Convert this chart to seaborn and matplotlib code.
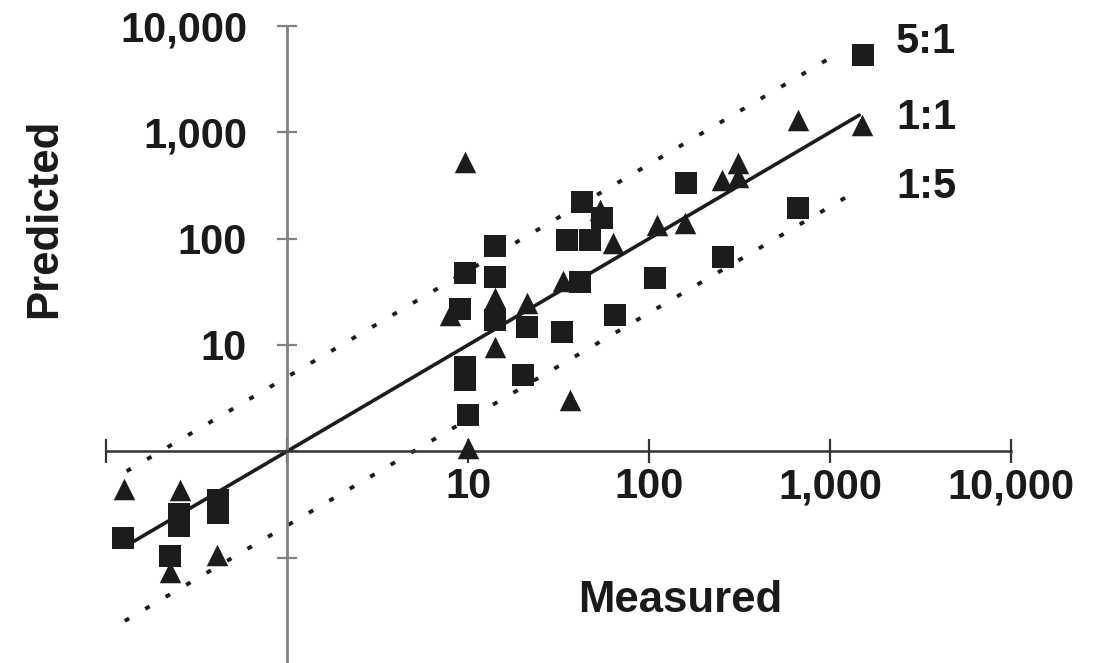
import matplotlib
matplotlib.use("Agg")
import matplotlib.pyplot as plt
import matplotlib.ticker as mticker
import seaborn as sns
import numpy as np

# ---- data ----
sq_measured = [0.124, 0.253, 0.253, 0.416, 0.416, 0.226,
               14.1, 9.6, 14.1, 14.1, 9.03, 21.2, 9.6, 9.6, 20.1, 10.0,
               42.6, 55, 35.2, 47.2, 41.6, 33.1, 64.9, 108, 160, 666, 256, 1521]
sq_predicted = [0.153, 0.258, 0.199, 0.35, 0.264, 0.104,
                85.7, 47.8, 43.8, 17.3, 21.9, 14.8, 6.24, 4.7, 5.25, 2.2,
                222, 157, 97.7, 97.7, 39.3, 13.3, 19.2, 42.9, 336, 195, 67.6, 5370]

tri_measured = [0.126, 0.256, 0.226, 0.411,
                14.1, 14.1, 7.95, 21.2, 10.0, 53.6, 63.2, 33.5, 36.6, 9.6,
                310, 310, 253, 111, 158, 666, 1503]
tri_predicted = [0.444, 0.434, 0.073, 0.106,
                 27.8, 9.6, 19.2, 24.9, 1.08, 187, 91.5, 40.2, 3.05, 528,
                 517, 382, 358, 135, 141, 1315, 1180]

ratio_labels = ["5:1", "1:1", "1:5"]
ratio_factors = [5.0, 1.0, 0.2]
ratio_x_start = [0.13, 0.125, 0.127]
ratio_x_end = [1090, 1450, 1430]

x_ticks = [0.1, 1, 10, 100, 1000, 10000]
x_ticklabels = ["", "", "10", "100", "1,000", "10,000"]
y_ticks = [0.1, 1, 10, 100, 1000, 10000]
y_ticklabels = ["", "", "10", "100", "1,000", "10,000"]

# ---- styling ----
sns.set_style("white")
plt.rcParams["font.family"] = ["Liberation Sans", "DejaVu Sans"]
plt.rcParams["font.weight"] = "bold"

W, H = 1117, 663
fig = plt.figure(figsize=(W / 100, H / 100), dpi=100)
left_px, right_px, top_px, bottom_px = 106, 1011, 26, 664
ax = fig.add_axes([left_px / W, (H - bottom_px) / H,
                   (right_px - left_px) / W, (bottom_px - top_px) / H])
ax.set_xscale("log")
ax.set_yscale("log")
ax.set_xlim(0.1, 10000)
ax.set_ylim(0.01, 10000)

ink = "#1c1c1c"
# ratio lines
dotted = (0, (1.3, 4.8))
styles = [dotted, "-", dotted]
widths = [2.8, 2.6, 2.8]
for f, xs, xe, ls, lw in zip(ratio_factors, ratio_x_start, ratio_x_end, styles, widths):
    xx = [xs, xe]
    yy = [xs * f, xe * f]
    sns.lineplot(x=xx, y=yy, ax=ax, color=ink, linewidth=lw,
                 linestyle=ls, estimator=None, sort=False, zorder=2)

sns.scatterplot(x=sq_measured, y=sq_predicted, ax=ax, marker="s", s=245,
                color=ink, edgecolor=ink, linewidth=0, zorder=3)
sns.scatterplot(x=tri_measured, y=tri_predicted, ax=ax, marker="^", s=240,
                color=ink, edgecolor=ink, linewidth=0, zorder=3)

# axes crossing at (1, 1)
for s in ["top", "right"]:
    ax.spines[s].set_visible(False)
ax.spines["left"].set_position(("data", 1))
ax.spines["bottom"].set_position(("data", 1))
ax.spines["left"].set_color("#808080")
ax.spines["bottom"].set_color("#333333")
ax.spines["left"].set_linewidth(2.0)
ax.spines["bottom"].set_linewidth(1.8)

ax.xaxis.set_major_locator(mticker.FixedLocator(x_ticks))
ax.xaxis.set_major_formatter(mticker.FixedFormatter(x_ticklabels))
ax.yaxis.set_major_locator(mticker.FixedLocator(y_ticks))
ax.yaxis.set_major_formatter(mticker.FixedFormatter(y_ticklabels))
ax.xaxis.set_minor_locator(mticker.NullLocator())
ax.yaxis.set_minor_locator(mticker.NullLocator())
ax.tick_params(axis="x", bottom=True, direction="inout", length=17, width=1.6,
               color="#333333", labelsize=30, pad=3, labelcolor="#1a1a1a")
ax.tick_params(axis="y", left=True, direction="inout", length=14.5, width=1.6,
               color="#808080", labelsize=30, pad=21.5, labelcolor="#1a1a1a")
for lab in ax.get_xticklabels() + ax.get_yticklabels():
    lab.set_fontweight("bold")

ax.set_xlabel("Measured", fontsize=31.5, fontweight="bold", color="#1a1a1a")
ax.xaxis.set_label_coords((680 - left_px) / (right_px - left_px),
                          (bottom_px - 601) / (bottom_px - top_px))
ax.xaxis.label.set_va("center")
ax.set_ylabel("Predicted", fontsize=31.5, fontweight="bold", color="#1a1a1a")
ax.yaxis.set_label_coords((45 - left_px) / (right_px - left_px),
                          (bottom_px - 218) / (bottom_px - top_px))
ax.yaxis.label.set_va("center")

label_y_px = [42, 118, 187]
for txt, ypx in zip(ratio_labels, label_y_px):
    ax.text((896 - left_px) / (right_px - left_px),
            (bottom_px - ypx) / (bottom_px - top_px), txt,
            transform=ax.transAxes, ha="left", va="center",
            fontsize=30, fontweight="bold", color="#1a1a1a")

fig.savefig("out.png", dpi=100)
